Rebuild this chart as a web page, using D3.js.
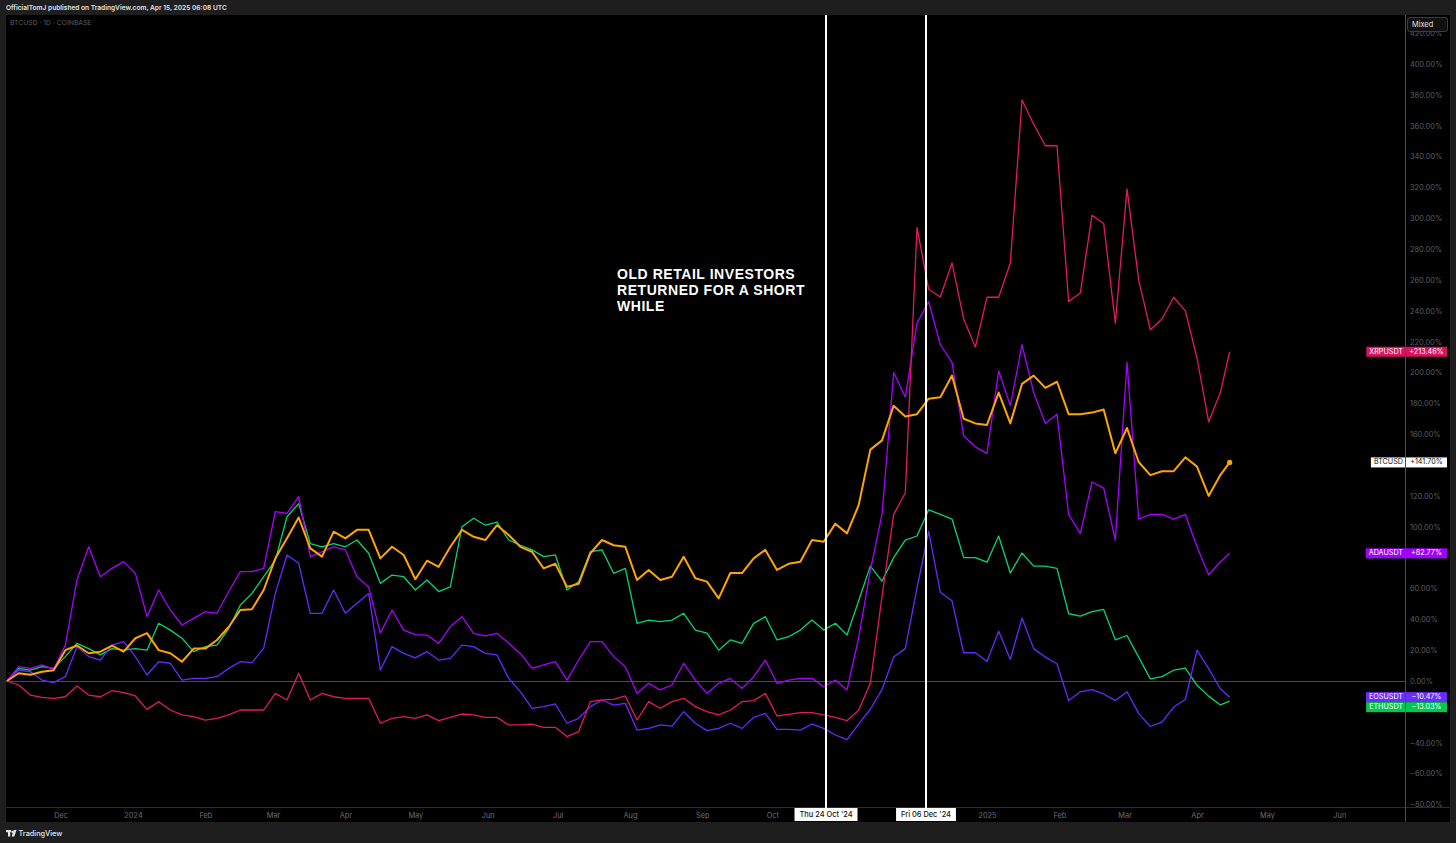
<!DOCTYPE html>
<html><head><meta charset="utf-8">
<script src="https://cdn.jsdelivr.net/npm/d3@7"></script>
<style>
html,body{margin:0;padding:0;background:#1e1e1e;}
svg{display:block;font-family:Inter,"Liberation Sans",sans-serif;}
</style></head><body>
<svg id="chart" width="1456" height="843"></svg>
<script>
// ---- data (percent change since start) ----
const startDate = "2023-11-08";
const stepDays = 5;
const lastDate = "2025-04-15";

const btcusd = [
 0, 5, 4, 6, 7, 20, 23, 18, 19, 23,
 19, 27.7, 31, 20, 18, 12.5, 21, 21, 26.6, 35,
 46, 46.5, 59, 79.5, 92.5, 106, 86, 80.6, 96.8, 92.5,
 98, 98, 79.5, 87, 81.7, 66, 78, 74, 87, 98,
 93.5, 91.4, 101, 94.7, 87, 83.8, 73, 76, 61, 63,
 82.8, 91.4, 88, 87, 65.5, 72, 65.5, 67.6, 80.6, 66.6,
 64.4, 53.6, 70, 70, 79.5, 85, 72, 76, 77.3, 91.4,
 90.3, 102, 95.7, 114, 150, 156, 178.5, 171.5, 173, 183,
 184, 198, 170, 167, 166, 187, 167, 192.6, 198, 190,
 194, 173, 173, 174, 176, 147.6, 164, 142, 133.5, 136,
 136, 145, 139, 120, 133.5,
 141.70];
const xrpusdt = [
 0, -2.6, -9.1, -10.6, -11.2, -10.2, -3.2, -9.1, -10.2, -6.3,
 -7.6, -9.7, -18.4, -13.4, -18.8, -22, -23.1, -25.3, -24.2, -22,
 -18.8, -18.8, -18.8, -8, -12.3, 5, -12.3, -8, -10.2, -11.2,
 -11.2, -11.2, -27.4, -24.2, -23.1, -24.2, -22, -25.7, -23.6, -21.4,
 -22, -23.6, -23.6, -28.5, -28.5, -27.9, -30, -30, -36, -32.8,
 -13.4, -12.3, -11.9, -9.7, -25.3, -13.4, -17.7, -13.4, -11.2, -16.6,
 -19.9, -22, -18.8, -13.4, -12.7, -8, -22.7, -21.6, -20.5, -20.5,
 -22, -23.6, -25.7, -19, -1.4, 54.8, 108, 122, 294, 254,
 249, 271, 234.7, 216.5, 248.8, 248.8, 271, 376.7, 361, 347,
 347, 246, 251.6, 302, 296.6, 232, 319, 260, 227.7, 234.7,
 248.8, 240, 209.4, 168, 187,
 213.46];
const adausdt = [
 0, 9.3, 8.2, 10.4, 7.6, 23.3, 65.5, 87, 67.6, 73,
 77.4, 69.8, 41.7, 59, 46, 36.3, 40.6, 45, 43.9, 58,
 70.9, 70.9, 73, 109.8, 108.7, 119.5, 80.6, 83.8, 87, 85,
 67.6, 61, 31, 46, 33, 30, 29.8, 24.4, 35.2, 41.7,
 30.9, 29.2, 30.9, 24.4, 17.9, 8.2, 10.4, 12.5, 0.6, 13.6,
 25.5, 25.5, 15.8, 9.3, -8, -1.5, -5.8, -2.6, 11.5, 0.6,
 -8, -1.5, 1.7, -4.8, 2.8, 13.6, -1.5, 0.6, 1.7, 1.7,
 -3.7, 0.6, -5.8, 28, 71.7, 108, 200, 184, 232, 246,
 218, 206.6, 158.8, 151.8, 147.6, 201, 178.5, 218, 187, 167,
 173, 108, 95.6, 129, 125, 91.4, 206.6, 105, 108, 108,
 105, 108, 87, 68.9, 77.3,
 82.77];
const eosusdt = [
 0, 7.1, 6, 0.6, -1.1, 2.8, 22.3, 15.8, 13.6, 23.3,
 25.5, 15.8, 3.9, 12.5, 11.5, 0.6, 1.7, 1.7, 2.8, 8.2,
 12.5, 11.9, 21.2, 56.8, 81.7, 76.3, 43.9, 43.9, 59, 43.9,
 50.4, 56.8, 7.1, 22.3, 17.9, 15, 19, 13.6, 14.7, 23.3,
 22.3, 17.9, 16.9, 1.7, -6.9, -17.7, -16.6, -14.9, -27.4, -24.2,
 -16.6, -12.3, -15.6, -14.5, -31.8, -30.7, -28.5, -29.2, -19.9, -27.4,
 -32.2, -30.7, -27.4, -30.7, -23.6, -21, -31.3, -31.3, -31.8, -27.9,
 -30.7, -35, -38, -28, -18.3, -5.6, 15.5, 21, 60.4, 97,
 57.6, 52, 18.3, 18.3, 12.7, 32.3, 14, 40.8, 21, 15.5,
 11.2, -12.7, -7, -5.6, -8.4, -12.7, -7, -21, -29.5, -26.7,
 -16.9, -12, 20, 8, -5,
 -10.47];
const ethusdt = [
 0, 8.2, 7.1, 9.3, 8.2, 15.8, 24.4, 21, 16.9, 21,
 20, 21, 20, 37.4, 33, 27.7, 19, 22.3, 23.3, 34,
 49.3, 56.8, 67.6, 78.4, 106.5, 115, 89, 87, 89, 87,
 91.4, 82.8, 63.3, 68.7, 67.6, 59, 65.5, 58, 61, 100,
 105.5, 101, 103, 91.4, 88, 85, 80.6, 81.7, 59, 64.4,
 83.8, 85, 69.8, 73, 37.4, 39.5, 38.5, 39.5, 43.9, 33,
 31, 20, 26.6, 24.4, 37.4, 41.7, 26.6, 28.7, 33, 39.5,
 33, 37.4, 29.8, 52, 74.5, 64.7, 80, 91.4, 94, 111,
 108, 105, 80, 80, 77, 94, 70, 83, 74.5, 74.5,
 73, 43.6, 42, 45, 46.4, 26.7, 29.5, 15.5, 1.4, 2.8,
 7, 8.4, -2.8, -9.8, -15.5,
 -13.03];

const seriesNames  = ["ETHUSDT", "EOSUSDT", "ADAUSDT", "XRPUSDT", "BTCUSD"];
const seriesValues = [ethusdt, eosusdt, adausdt, xrpusdt, btcusd];
const seriesColors = ["#0ad46c", "#6a28ff", "#a800ff", "#e3195f", "#ffa500"];
const labelColors  = ["#00c853", "#6b2dff", "#a100ff", "#d6145f", "#ffffff"];

const yTickValues = [-80,-60,-40,-20,0,20,40,60,80,100,120,140,160,180,200,220,240,260,280,300,320,340,360,380,400,420];
const xTickDates  = ["2023-12-01","2024-01-01","2024-02-01","2024-03-01","2024-04-01","2024-05-01","2024-06-01","2024-07-01","2024-08-01","2024-09-01","2024-10-01","2025-01-01","2025-02-01","2025-03-01","2025-04-01","2025-05-01","2025-06-01"];
const xTickLabels = ["Dec","2024","Feb","Mar","Apr","May","Jun","Jul","Aug","Sep","Oct","2025","Feb","Mar","Apr","May","Jun"];
const markerDates  = ["2024-10-24","2024-12-06"];
const markerLabels = ["Thu 24 Oct '24","Fri 06 Dec '24"];
const noteLines = ["OLD RETAIL INVESTORS","RETURNED FOR A SHORT","WHILE"];

// ---- build dates ----
const start = new Date(startDate + "T00:00:00Z");
const dates = btcusd.map((_, i) => i === btcusd.length - 1 ? new Date(lastDate + "T00:00:00Z") : d3.utcDay.offset(start, i * stepDays));

// ---- layout ----
const W = 1456, H = 843;
const frame = {l: 6, t: 15, r: 1450, b: 822};
const plot = {l: 6, t: 15, r: 1405, b: 807};

const svg = d3.select("#chart");
svg.append("rect").attr("width", W).attr("height", H).attr("fill", "#1e1e1e");
svg.append("rect").attr("x", frame.l).attr("y", frame.t).attr("width", frame.r - frame.l).attr("height", frame.b - frame.t).attr("fill", "#000");

const x = d3.scaleUtc().domain([new Date("2024-01-01T00:00:00Z"), new Date("2025-01-01T00:00:00Z")]).range([133, 987]);
const y = d3.scaleLinear().domain([0, 400]).range([681, 64]);

svg.append("clipPath").attr("id", "clip").append("rect")
  .attr("x", plot.l).attr("y", plot.t).attr("width", plot.r - plot.l).attr("height", plot.b - plot.t);

// header
svg.append("text").attr("x", 6).attr("y", 8.5).attr("dominant-baseline", "middle")
  .attr("font-size", 6.6).attr("font-weight", 600).attr("fill", "#e2e2e2")
  .text("OfficialTomJ published on TradingView.com, Apr 15, 2025 06:08 UTC");
svg.append("text").attr("x", 10).attr("y", 23.5).attr("dominant-baseline", "middle")
  .attr("font-size", 6.8).attr("fill", "#5b5e66").text("BTCUSD · 1D · COINBASE");

// zero line
svg.append("line").attr("x1", plot.l).attr("x2", plot.r).attr("y1", Math.round(y(0)) + 0.5).attr("y2", Math.round(y(0)) + 0.5)
  .attr("stroke", "#4a4a4a").attr("stroke-width", 1);

// bottom border of plot and right separator
svg.append("line").attr("x1", plot.l).attr("x2", frame.r).attr("y1", plot.b + 0.5).attr("y2", plot.b + 0.5)
  .attr("stroke", "#2c2d33").attr("stroke-width", 1);
svg.append("line").attr("x1", plot.r + 0.5).attr("x2", plot.r + 0.5).attr("y1", frame.t).attr("y2", frame.b)
  .attr("stroke", "#4d4d4d").attr("stroke-width", 1);

// right-side last value labels (computed first so covered ticks can be skipped)
const labs = seriesNames.map((n, s) => {
  const v = seriesValues[s][seriesValues[s].length - 1];
  return {name: n, v, yy: y(v), color: labelColors[s], text: n === "BTCUSD" ? "#111" : "#fff"};
}).sort((a, b) => a.yy - b.yy);
for (let i = 1; i < labs.length; i++) if (labs[i].yy - labs[i - 1].yy < 10) labs[i].yy = labs[i - 1].yy + 10;

// y axis
const yAxis = d3.axisRight(y).tickValues(yTickValues).tickSize(0).tickPadding(0)
  .tickFormat(d => (d < 0 ? "\u2212" : "") + Math.abs(d).toFixed(2) + "%");
const gy = svg.append("g").attr("transform", `translate(${plot.r + 5},0)`).call(yAxis);
gy.select(".domain").remove();
gy.selectAll("text").attr("font-size", 7.4).attr("fill", "#5c5f67").attr("font-family", "Inter, sans-serif").attr("dy", "0.32em");
gy.selectAll(".tick").filter(d => labs.some(l => Math.abs(y(d) - l.yy) < 9.5)).remove();

// x axis
const xAxis = d3.axisBottom(x).tickValues(xTickDates.map(d => new Date(d + "T00:00:00Z"))).tickSize(0).tickPadding(0)
  .tickFormat((d, i) => xTickLabels[i]);
const gx = svg.append("g").attr("transform", `translate(0,${plot.b + 6})`).call(xAxis);
gx.select(".domain").remove();
gx.selectAll("text").attr("font-size", 7.4).attr("fill", "#696c74").attr("font-family", "Inter, sans-serif");

// series
const line = d3.line().x((d, i) => x(dates[i])).y(d => y(d)).curve(d3.curveLinear);
const gl = svg.append("g").attr("clip-path", "url(#clip)");
seriesValues.forEach((vals, s) => {
  gl.append("path").datum(vals).attr("d", line).attr("fill", "none")
    .attr("stroke", seriesColors[s]).attr("stroke-width", seriesNames[s] === "BTCUSD" ? 2 : 1.3)
    .attr("stroke-linejoin", "round");
});
gl.append("circle").attr("cx", x(dates[dates.length - 1])).attr("cy", y(btcusd[btcusd.length - 1]))
  .attr("r", 2.6).attr("fill", "#ffa500");

// annotation: three lines, font with a compact line box
noteLines.forEach((t, i) => {
  svg.append("text").attr("x", 617).attr("y", 279.3 + i * 16)
    .attr("font-family", "'Liberation Sans', Arial, sans-serif").attr("font-size", 14).attr("font-weight", 700)
    .attr("letter-spacing", 0.55).attr("fill", "#ffffff").text(t);
});

// vertical markers
markerDates.forEach((d, i) => {
  const mx = Math.round(x(new Date(d + "T00:00:00Z")));
  svg.append("line").attr("x1", mx).attr("x2", mx).attr("y1", frame.t).attr("y2", plot.b)
    .attr("stroke", "#ffffff").attr("stroke-width", 2);
  const g = svg.append("g");
  const tx = g.append("text").attr("x", mx).attr("y", 815).attr("text-anchor", "middle").attr("dominant-baseline", "middle")
    .attr("font-size", 7.4).attr("font-weight", 500).attr("fill", "#131313").text(markerLabels[i]);
  const bw = tx.node().getComputedTextLength() + 10;
  g.insert("rect", "text").attr("x", mx - bw / 2).attr("y", plot.b + 1).attr("width", bw).attr("height", 13).attr("fill", "#ffffff");
  svg.append("line").attr("x1", mx).attr("x2", mx).attr("y1", plot.b).attr("y2", plot.b + 1).attr("stroke", "#fff").attr("stroke-width", 2);
});

// draw right labels
labs.forEach(l => {
  const g = svg.append("g");
  const nameT = g.append("text").attr("x", plot.r - 2).attr("y", l.yy).attr("text-anchor", "end").attr("dominant-baseline", "middle")
    .attr("font-size", 7.2).attr("fill", l.text).text(l.name);
  const nw = nameT.node().getComputedTextLength() + 5;
  g.insert("rect", "text").attr("x", plot.r - nw).attr("y", l.yy - 5).attr("width", nw).attr("height", 10).attr("fill", l.color);
  g.append("rect").attr("x", plot.r + 1).attr("y", l.yy - 5).attr("width", 41).attr("height", 10).attr("fill", l.color);
  g.append("text").attr("x", plot.r + 21.5).attr("y", l.yy).attr("text-anchor", "middle").attr("dominant-baseline", "middle")
    .attr("font-size", 7.2).attr("fill", l.text)
    .text((l.v >= 0 ? "+" : "\u2212") + Math.abs(l.v).toFixed(2) + "%");
});

// Mixed button
svg.append("rect").attr("x", 1407.5).attr("y", 17.5).attr("width", 40).attr("height", 14).attr("rx", 2.5)
  .attr("fill", "#111").attr("stroke", "#3c3c3c");
svg.append("text").attr("x", 1412).attr("y", 24.8).attr("dominant-baseline", "middle").attr("font-size", 7.4)
  .attr("fill", "#e0e0e0").text("Mixed");

// footer logo
const lg = svg.append("g").attr("transform", "translate(6,830)").attr("fill", "#e6e6e6");
lg.append("rect").attr("x", 0).attr("y", 0).attr("width", 5).attr("height", 2.2);
lg.append("rect").attr("x", 2).attr("y", 0).attr("width", 2.2).attr("height", 6.5);
lg.append("circle").attr("cx", 6.3).attr("cy", 1.8).attr("r", 1.1);
lg.append("path").attr("d", "M7.6,0 L10.5,0 L8.3,6.5 L5.6,6.5 Z");
svg.append("text").attr("x", 18.5).attr("y", 834).attr("dominant-baseline", "middle").attr("font-size", 7.3)
  .attr("font-weight", 500).attr("fill", "#e6e6e6").text("TradingView");
</script>
</body></html>
